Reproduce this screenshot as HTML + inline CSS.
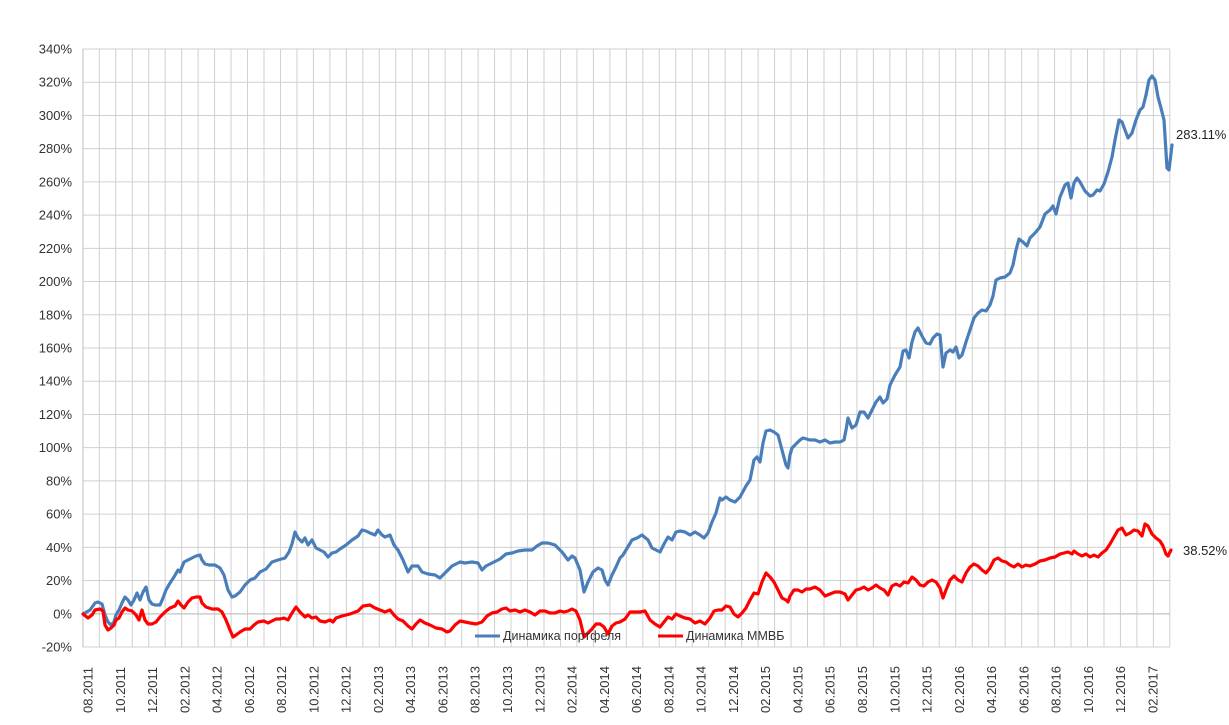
<!DOCTYPE html>
<html><head><meta charset="utf-8"><style>
body{margin:0;background:#fff}
svg{display:block;font-family:"Liberation Sans",sans-serif}
</style></head><body>
<svg width="1229" height="725" viewBox="0 0 1229 725" xmlns="http://www.w3.org/2000/svg">
<g id="grid" stroke="#d0d0d0" stroke-width="1"></g>
<g id="ylab" font-size="13" fill="#333" text-anchor="end"></g>
<g id="xlab" font-size="13" fill="#333"></g>
<line x1="83" y1="614" x2="1170" y2="614" stroke="#bfbfbf" stroke-width="1"/>
<line x1="83" y1="49" x2="83" y2="647" stroke="#bfbfbf" stroke-width="1"/>
<polyline id="blue" fill="none" stroke="#4a7ebb" stroke-width="3.2" stroke-linejoin="round" stroke-linecap="round" points="83,614 90,610 95,603 98,602 102,604 105,615 108,622 111,625 114,622 116,615 119,610 122,603 125,597 128,600 131,605 134,600 137,593 140,600 143,592 146,587 149,600 152,604 155,605 158,605 160,605 163,598 166,590 170,583 174,577 178,570 180,572 184,562 188,560 192,558 196,556 200,555 202,560 205,564 209,565 215,565 220,568 224,575 228,590 232,597 235,596 240,592 245,585 250,580 255,578 260,572 266,569 272,562 278,560 285,558 289,552 292,544 295,532 298,538 302,542 305,538 308,545 312,540 316,548 320,550 324,552 328,557 332,553 336,552 340,549 346,545 352,540 358,536 362,530 366,531 370,533 375,535 378,530 382,535 385,537 390,535 394,545 398,550 403,560 408,572 412,566 418,566 422,572 428,574 435,575 440,578 445,573 452,566 460,562 465,563 472,562 478,563 482,570 486,566 492,563 500,559 506,554 512,553 518,551 525,550 532,550 537,546 542,543 548,543 555,545 562,552 568,560 572,556 575,558 580,570 584,592 588,582 593,572 598,568 602,570 605,580 608,585 612,575 616,567 620,558 623,555 626,550 632,540 637,538 642,535 648,540 652,548 656,550 660,552 664,544 668,537 672,540 676,532 680,531 685,532 690,535 695,532 700,535 704,538 708,533 712,522 716,513 720,498 722,500 726,497 730,500 735,502 740,497 746,486 750,480 754,460 757,457 760,462 763,443 766,431 770,430 774,432 778,435 782,450 786,465 788,468 790,455 792,448 795,445 800,440 803,438 810,440 815,440 820,442 825,440 830,443 835,442 840,442 844,440 846,430 848,418 852,428 856,425 860,412 864,412 868,418 872,410 876,402 880,397 883,403 887,399 890,385 895,375 900,367 903,351 906,350 909,358 912,342 915,332 918,328 922,336 926,343 930,344 933,338 937,334 940,335 943,367 946,353 950,350 953,352 956,347 959,358 962,355 966,342 970,330 974,318 978,313 982,310 986,311 990,305 993,296 996,280 1000,278 1005,277 1010,273 1013,265 1016,250 1019,239 1023,242 1027,246 1030,238 1035,233 1040,227 1045,214 1050,210 1053,206 1056,214 1060,197 1065,185 1068,183 1071,198 1074,183 1077,178 1080,182 1085,191 1090,196 1093,195 1097,190 1100,191 1104,184 1108,172 1112,157 1115,140 1119,120 1122,122 1125,130 1128,138 1132,133 1136,120 1140,110 1143,107 1146,95 1149,80 1152,76 1155,80 1158,97 1161,108 1164,120 1167,168 1169,170 1172,145"/>
<polyline fill="none" stroke="#ff0000" stroke-width="3.2" stroke-linejoin="round" stroke-linecap="round" points="83,614 88,618 92,615 95,610 100,609 103,611 105,625 108,630 111,628 114,625 116,620 119,618 122,612 125,608 128,610 132,611 136,615 139,620 142,610 145,620 148,624 152,624 156,622 160,617 165,612 170,608 175,606 178,601 181,605 184,608 188,602 192,598 196,597 200,597 202,603 206,607 212,609 218,609 222,612 226,620 230,630 233,637 236,635 240,632 245,629 250,629 254,625 258,622 264,621 268,623 272,621 276,619 280,619 284,618 288,620 292,613 296,607 300,612 305,617 308,615 312,618 316,617 320,621 325,622 330,620 333,622 336,618 342,616 350,614 358,611 363,606 370,605 375,608 380,610 385,612 390,610 394,615 398,619 403,621 408,626 412,629 416,624 420,620 425,623 430,625 436,628 442,629 447,632 450,631 455,625 460,621 465,622 470,623 476,624 482,622 487,616 492,613 497,612 502,609 506,608 510,611 515,610 520,612 525,610 530,612 535,615 540,611 545,611 550,613 555,613 560,611 564,612 568,611 572,609 576,611 580,620 584,637 588,633 592,629 596,624 600,624 604,627 608,634 612,626 616,623 620,622 625,619 630,612 636,612 640,612 645,611 650,620 655,624 660,627 664,622 668,617 672,619 676,614 680,616 685,618 690,619 695,623 700,621 705,624 710,618 714,611 718,610 722,610 726,606 730,607 734,614 738,617 742,613 746,608 750,600 754,593 758,594 762,582 766,573 770,577 774,582 778,590 782,598 786,600 788,602 790,596 794,590 798,590 802,592 806,589 810,589 815,587 820,590 825,596 830,594 835,592 840,592 845,594 848,600 852,595 856,590 860,589 864,587 868,590 872,588 876,585 880,588 884,590 888,595 892,586 896,584 900,586 904,582 908,583 912,577 916,580 920,585 924,586 928,582 932,580 936,582 940,588 943,598 946,590 950,580 954,576 958,580 962,582 966,573 970,567 974,564 978,566 982,570 986,573 990,568 994,560 998,558 1002,561 1006,562 1010,565 1014,567 1018,564 1022,567 1026,565 1030,566 1035,564 1040,561 1045,560 1050,558 1055,557 1060,554 1064,553 1068,552 1072,554 1074,551 1078,554 1082,556 1086,554 1090,557 1094,555 1098,557 1102,553 1106,550 1110,544 1114,537 1118,530 1122,528 1126,535 1130,533 1134,530 1138,531 1142,536 1145,524 1148,526 1152,534 1156,538 1160,541 1163,546 1166,554 1168,556 1171,550"/>
<text x="1176" y="139" font-size="13" fill="#222">283.11%</text>
<text x="1183" y="555" font-size="13" fill="#222">38.52%</text>
<line x1="475" y1="636" x2="500" y2="636" stroke="#4a7ebb" stroke-width="3"/>
<text x="503" y="640" font-size="12.5" fill="#333">Динамика портфеля</text>
<line x1="658" y1="636" x2="683" y2="636" stroke="#ff0000" stroke-width="3"/>
<text x="686" y="640" font-size="12.5" fill="#333">Динамика ММВБ</text>
</svg>
<script>
var ns="http://www.w3.org/2000/svg",g=document.getElementById("grid"),yl=document.getElementById("ylab"),xl=document.getElementById("xlab");
function el(p,t,a){var e=document.createElementNS(ns,t);for(var k in a)e.setAttribute(k,a[k]);p.appendChild(e);return e;}
for(var i=0;i<=18;i++){var y=49+i*33.222;var v=340-i*20;
 el(g,"line",{x1:83,x2:1170,y1:y,y2:y});
 var t=el(yl,"text",{x:72,y:y+4.5});t.textContent=v+"%";}
for(var k=0;k<=65;k++){var x=99.3+k*16.47;el(g,"line",{x1:x,x2:x,y1:49,y2:647});}
var m=8,yr=2011;
for(var i=0;i<34;i++){var x=88+i*32.27;var s=(m<10?"0":"")+m+"."+yr;
 var t=el(xl,"text",{x:0,y:0,transform:"translate("+(x+4.5)+",713) rotate(-90)"});t.textContent=s;
 m+=2;if(m>12){m-=12;yr++;}}
</script>
</body></html>
